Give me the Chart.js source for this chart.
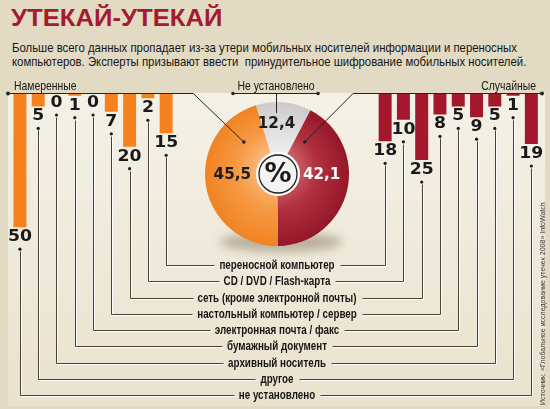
<!DOCTYPE html>
<html>
<head>
<meta charset="utf-8">
<script src="https://cdn.jsdelivr.net/npm/chart.js@4"></script>
<style>
body{margin:0;width:550px;height:409px;background:#e2dac3;overflow:hidden;position:relative;font-family:"Liberation Sans",sans-serif}
#panel{position:absolute;left:8px;top:93px;width:537px;height:313px;background:linear-gradient(#f4f1e7,#e9e2cd)}
canvas{position:absolute;left:0;top:0}
#title{position:absolute;left:11px;top:5px;font:bold 23px "Liberation Sans",sans-serif;color:#a31b2c;transform-origin:0 0;white-space:nowrap}
.sub{position:absolute;left:12px;font-size:13.5px;color:#161616;white-space:nowrap;transform-origin:0 0}
</style>
</head>
<body>
<div id="panel"></div>
<div id="title">УТЕКАЙ-УТЕКАЙ</div>
<div class="sub" id="s1" style="top:40px">Больше всего данных пропадает из-за утери мобильных носителей информации и переносных</div>
<div class="sub" id="s2" style="top:54px">компьютеров. Эксперты призывают ввести&nbsp; принудительное шифрование мобильных носителей.</div>
<canvas id="leftBars" width="550" height="409"></canvas>
<canvas id="rightBars" width="550" height="409"></canvas>
<canvas id="pie" width="550" height="409"></canvas>
<script>
// data
const sources = ['переносной компьютер', 'CD / DVD / Flash-карта', 'сеть (кроме электронной почты)',
    'настольный компьютер / сервер', 'электронная почта / факс', 'бумажный документ',
    'архивный носитель', 'другое', 'не установлено'];
const intentional = [15, 2, 20, 7, 0, 1, 0, 5, 50];   // Намеренные, same order as sources
const accidental = [18, 10, 25, 8, 5, 9, 5, 1, 19];   // Случайные
const pieLabels = ['Не установлено', 'Случайные', 'Намеренные'];
const pieValues = [12.4, 42.1, 45.5];
const source = 'Источник: «Глобальное исследование утечек 2008» InfoWatch';

// fit the header texts to the widths of the original
function fit(id, w) {
    const el = document.getElementById(id);
    el.style.transform = 'scaleX(' + (w / el.offsetWidth) + ')';
}
fit('title', 211);
fit('s1', 505);
fit('s2', 514);

const ROW0 = 265, ROWSTEP = 16.25, TEXTX = 277, AXIS_Y = 93;
const ROW_FONT = 'bold 13px "Liberation Sans", sans-serif';
const CAP_FONT = '13px "Liberation Sans", sans-serif';
const NUM_FONT = 'bold 15px "DejaVu Sans", sans-serif';
const NARROW = 0.8;
const rowY = k => ROW0 + ROWSTEP * k;

// horizontally squeezed text (no narrow font installed)
function sText(ctx, s, x, y, font, sx, align) {
    ctx.save();
    ctx.font = font;
    ctx.textAlign = align || 'center';
    ctx.textBaseline = 'middle';
    ctx.translate(x, y);
    ctx.scale(sx, 1);
    ctx.fillText(s, 0, 0);
    ctx.restore();
}

function rawW(ctx, s, font) {
    ctx.save();
    ctx.font = font;
    const w = ctx.measureText(s).width;
    ctx.restore();
    return w;
}

let rowSX = null;
function rowScale(ctx) {
    if (rowSX === null) rowSX = 159 / rawW(ctx, sources[2], ROW_FONT);
    return rowSX;
}
const textW = (ctx, s) => rawW(ctx, s, ROW_FONT) * rowScale(ctx);

function dot(ctx, x, y, r) {
    ctx.beginPath();
    ctx.arc(x, y, r, 0, Math.PI * 2);
    ctx.fill();
}

// double line: light highlight + dark line
function groove(ctx, pts) {
    ctx.save();
    ctx.lineWidth = 1;
    [['rgba(255,255,255,0.95)', 1], ['#4a4037', 0]].forEach(([c, o]) => {
        ctx.strokeStyle = c;
        ctx.beginPath();
        pts.forEach((p, n) => {
            const x = Math.round(p[0]) + 0.5 + o, y = Math.round(p[1]) + 0.5 + o;
            if (n) ctx.lineTo(x, y); else ctx.moveTo(x, y);
        });
        ctx.stroke();
    });
    ctx.restore();
}

const connectors = {
    id: 'connectors',
    afterDatasetsDraw(chart, args, opts) {
        const ctx = chart.ctx;
        const meta = chart.getDatasetMeta(0);
        const vals = chart.data.datasets[0].data;
        const left = opts.side === 'left';

        meta.data.forEach((bar, i) => {
            const x = bar.x, b = bar.y;
            ctx.fillStyle = '#1a1a1a';
            sText(ctx, String(vals[i]), x, b + 10, NUM_FONT, 1.15);
            dot(ctx, x, b + 22, 1.6);

            const k = left ? 8 - i : i;
            const y = rowY(k);
            const w = textW(ctx, sources[k]);
            if (left) groove(ctx, [[x, b + 24], [x, y], [TEXTX - w / 2 - 5, y]]);
            else groove(ctx, [[TEXTX + w / 2 + 5, y], [x, y], [x, b + 24]]);
        });

        // top axis line
        ctx.save();
        ctx.strokeStyle = '#2a2420';
        ctx.fillStyle = '#2a2420';
        ctx.lineWidth = 1;
        ctx.beginPath();
        const a = chart.chartArea;
        const x0 = left ? 8 : a.left - 23, x1 = left ? a.right + 18 : 542;
        ctx.moveTo(x0, AXIS_Y + 0.5);
        ctx.lineTo(x1, AXIS_Y + 0.5);
        ctx.stroke();
        dot(ctx, left ? x0 : x1, AXIS_Y + 0.5, 2);
        ctx.fillStyle = '#161616';
        sText(ctx, left ? pieLabels[2] : pieLabels[1], left ? 14 : 536, 86, CAP_FONT, NARROW, left ? 'left' : 'right');

        if (left) {
            // row captions
            sources.forEach((s, k) => sText(ctx, s, TEXTX, rowY(k) + 0.5, ROW_FONT, rowScale(ctx)));
        } else {
            // source, rotated
            ctx.translate(543, 405);
            ctx.rotate(-Math.PI / 2);
            ctx.fillStyle = '#333';
            sText(ctx, source, 0, 0, '8px "Liberation Sans", sans-serif', 0.88, 'left');
        }
        ctx.restore();
    }
};

function barChart(id, values, color, padL, padR, side) {
    return new Chart(document.getElementById(id), {
        type: 'bar',
        data: {
            labels: values.map((v, i) => i),
            datasets: [{
                data: values,
                backgroundColor: color,
                barPercentage: 0.71,
                categoryPercentage: 1
            }]
        },
        options: {
            responsive: false,
            animation: false,
            devicePixelRatio: 1,
            events: [],
            layout: { padding: { left: padL, right: padR, top: AXIS_Y, bottom: 155 } },
            plugins: {
                legend: { display: false },
                tooltip: { enabled: false },
                connectors: { side: side }
            },
            scales: {
                x: { display: false },
                y: { display: false, reverse: true, min: 0, max: 60 }
            }
        },
        plugins: [connectors]
    });
}

// left chart goes outermost -> innermost, so reverse
const leftChart = barChart('leftBars', intentional.slice().reverse(), '#f5821f', 10.8, 374.7, 'left');
const rightChart = barChart('rightBars', accidental, '#a3182d', 376, 9.5, 'right');

const sliceColors = [
    ['#f1f1f1', '#e0e0e0', '#cbcbcb'],
    ['#d6787a', '#b0303f', '#951728'],
    ['#fcc592', '#f69a45', '#f08322']
];

function sliceFill(context) {
    const chart = context.chart;
    const a = chart.chartArea;
    const c = sliceColors[context.dataIndex];
    if (!a) return c[1];
    const cx = (a.left + a.right) / 2, cy = (a.top + a.bottom) / 2, r = (a.right - a.left) / 2;
    const g = chart.ctx.createRadialGradient(cx, cy - 8, 8, cx, cy, r);
    c.forEach((col, n) => g.addColorStop(n / (c.length - 1), col));
    return g;
}

const pieDeco = {
    id: 'pieDeco',
    beforeDatasetsDraw(chart) {
        const ctx = chart.ctx, a = chart.chartArea;
        const cx = (a.left + a.right) / 2, cy = (a.top + a.bottom) / 2, r = (a.right - a.left) / 2;
        ctx.save();
        ctx.filter = 'blur(5px)';
        ctx.fillStyle = 'rgba(90,70,40,0.35)';
        ctx.beginPath();
        ctx.ellipse(cx + 4, cy + r - 4, r * 0.85, 10, 0, 0, Math.PI * 2);
        ctx.fill();
        ctx.restore();
    },
    afterDatasetsDraw(chart) {
        const ctx = chart.ctx, a = chart.chartArea;
        const cx = (a.left + a.right) / 2, cy = (a.top + a.bottom) / 2, r = (a.right - a.left) / 2;
        const arcs = chart.getDatasetMeta(0).data;
        const vals = chart.data.datasets[0].data;

        // values
        ctx.save();
        arcs.forEach((arc, i) => {
            const mid = (arc.startAngle + arc.endAngle) / 2;
            let x, y;
            if (i === 0) {
                x = cx + r * 0.68 * Math.cos(mid) - 5;
                y = cy + r * 0.7 * Math.sin(mid);
            } else {
                x = cx + Math.sign(Math.cos(mid)) * r * 0.62;
                y = cy + 1;
            }
            ctx.fillStyle = i === 1 ? '#ffffff' : '#1c1c1c';
            sText(ctx, String(vals[i]).replace('.', ','), x, y, 'bold 16px "DejaVu Sans", sans-serif', 0.95);
        });

        // centre badge
        ctx.fillStyle = '#f3f3f1';
        ctx.strokeStyle = '#ffffff';
        ctx.lineWidth = 2;
        ctx.beginPath();
        ctx.arc(cx + 1, cy, 21, 0, Math.PI * 2);
        ctx.fill();
        ctx.stroke();
        ctx.strokeStyle = '#222';
        ctx.lineWidth = 1.3;
        ctx.beginPath();
        ctx.arc(cx + 1, cy, 19, 0, Math.PI * 2);
        ctx.stroke();
        ctx.fillStyle = '#1a1a1a';
        sText(ctx, '%', cx + 1, cy + 1, 'bold 27px "DejaVu Sans", sans-serif', 1);

        // leaders
        ctx.strokeStyle = '#2a2420';
        ctx.fillStyle = '#2a2420';
        ctx.lineWidth = 1;
        const pL = [cx + r * 0.64 * Math.cos(-136 * Math.PI / 180), cy + r * 0.64 * Math.sin(-136 * Math.PI / 180)];
        const pR = [cx + r * 0.59 * Math.cos(-49 * Math.PI / 180), cy + r * 0.59 * Math.sin(-49 * Math.PI / 180)];
        ctx.beginPath();
        ctx.moveTo(leftChart.chartArea.right + 18, AXIS_Y + 0.5);
        ctx.lineTo(pL[0], pL[1]);
        ctx.moveTo(rightChart.chartArea.left - 23, AXIS_Y + 0.5);
        ctx.lineTo(pR[0], pR[1]);
        ctx.stroke();
        dot(ctx, pL[0], pL[1], 1.8);
        dot(ctx, pR[0], pR[1], 1.8);

        // "Не установлено" bracket
        ctx.beginPath();
        ctx.moveTo(cx - 44, AXIS_Y + 0.5);
        ctx.lineTo(cx + 41, AXIS_Y + 0.5);
        ctx.moveTo(cx - 0.5, AXIS_Y);
        ctx.lineTo(cx - 0.5, a.top + 11);
        ctx.stroke();
        dot(ctx, cx - 44, AXIS_Y + 0.5, 1.8);
        dot(ctx, cx + 41, AXIS_Y + 0.5, 1.8);
        ctx.fillStyle = '#161616';
        sText(ctx, pieLabels[0], cx - 1, 86, CAP_FONT, NARROW);
        ctx.restore();
    }
};

new Chart(document.getElementById('pie'), {
    type: 'pie',
    data: {
        labels: pieLabels,
        datasets: [{ data: pieValues, backgroundColor: sliceFill, borderWidth: 0 }]
    },
    options: {
        responsive: false,
        animation: false,
        devicePixelRatio: 1,
        events: [],
        rotation: -17,
        layout: { padding: { left: 205, right: 201, top: 102, bottom: 163 } },
        plugins: { legend: { display: false }, tooltip: { enabled: false } }
    },
    plugins: [pieDeco]
});
</script>
</body>
</html>
